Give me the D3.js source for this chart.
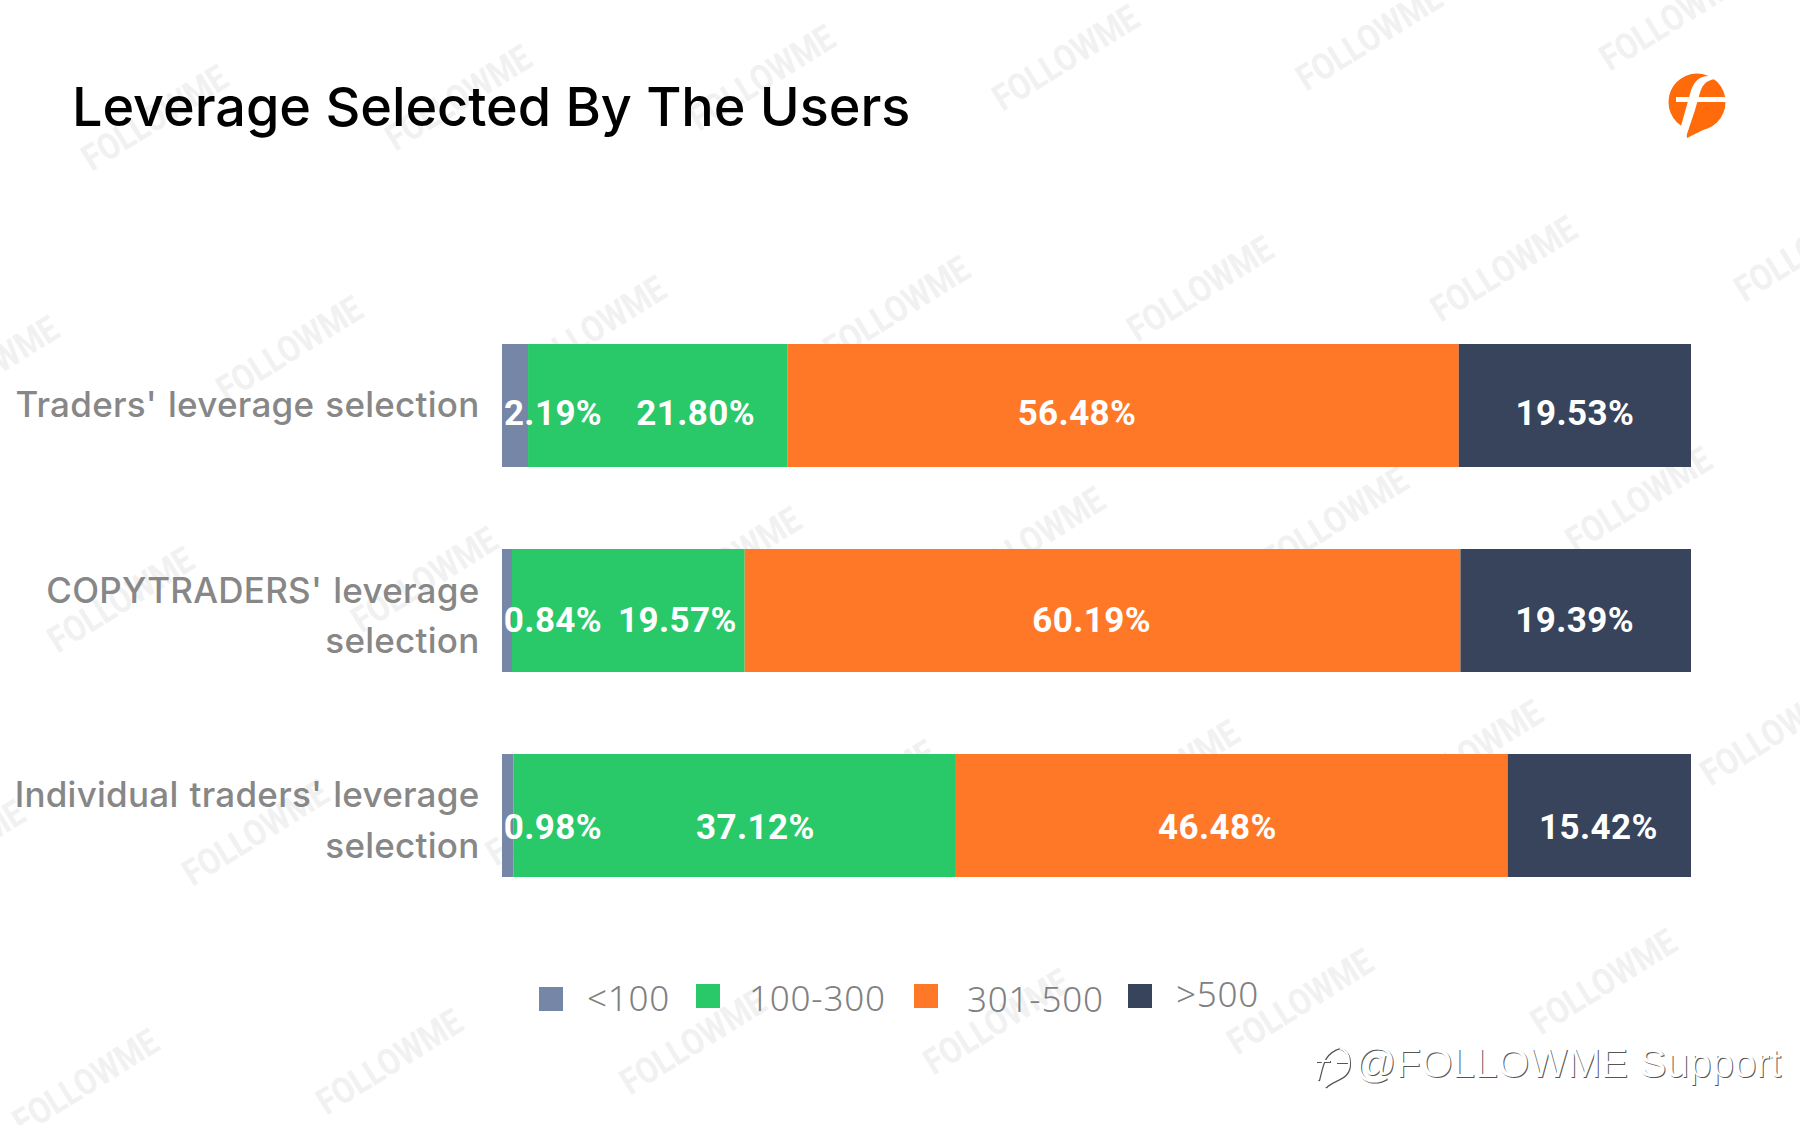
<!DOCTYPE html>
<html>
<head>
<meta charset="utf-8">
<script src="https://cdn.jsdelivr.net/npm/d3@7"></script>
<style>
  html, body { margin: 0; background: #fff; }
  svg { display: block; }
</style>
</head>
<body>
<svg id="chart" width="1800" height="1125"></svg>
<script>
// data
var categories = ['traders', 'copytraders', 'individual'];
var categoryLabels = [
    ["Traders' leverage selection"],
    ["COPYTRADERS' leverage", 'selection'],
    ["Individual traders' leverage", 'selection']
];
var seriesNames = ['<100', '100-300', '301-500', '>500'];
var under100 = [2.19, 0.84, 0.98];
var from100to300 = [21.80, 19.57, 37.12];
var from301to500 = [56.48, 60.19, 46.48];
var over500 = [19.53, 19.39, 15.42];

var seriesColors = ['#7686a6', '#29c869', '#ff7828', '#37445c'];

// labels in the picture are not centred in their segments, so nudge them by hand
var labelShift = [
    [38, 38, -46, 0],
    [46, 49, -11, -1],
    [45, 21, -14, -1]
];
var labelBaselines = [425, 632, 839];
var categoryBaselines = [[417], [603, 653], [807, 858]];
var legendSwatchY = [987, 984, 984, 984];
var legendSwatchX = [539, 696, 914, 1128];
var legendTextX = [587, 749, 967, 1176];
var legendTextY = [1011, 1011, 1012, 1007];

var svg = d3.select('#chart');

var rows = categories.map(function (c, i) {
    return {
        category: c,
        '<100': under100[i],
        '100-300': from100to300[i],
        '301-500': from301to500[i],
        '>500': over500[i]
    };
});

var stacked = d3.stack()
    .keys(seriesNames)
    .offset(d3.stackOffsetExpand)(rows);

var xScale = d3.scaleLinear().domain([0, 1]).range([502, 1691]);
var yScale = d3.scaleBand().domain(categories).range([344, 877]).paddingInner(0.4);
var colorScale = d3.scaleOrdinal().domain(seriesNames).range(seriesColors);

// repeated watermark, one pass under the chart and a very faint one over it
function drawWatermark(fill, opacity) {
    var markRows = [[155, 118], [-14, 369], [121, 600], [-48, 853], [86, 1082]];
    markRows.forEach(function (start) {
        d3.range(7).forEach(function (k) {
            var x = start[0] + k * 303.6;
            if (x > 1850) return;
            svg.append('text')
                .attr('transform', 'translate(' + x + ',' + (start[1] - k * 20) + ') rotate(-32)')
                .attr('x', -82)
                .attr('dy', 12)
                .attr('textLength', 164)
                .attr('lengthAdjust', 'spacingAndGlyphs')
                .attr('font-family', 'Roboto')
                .attr('font-weight', 700)
                .attr('font-size', 36)
                .attr('fill', fill)
                .attr('fill-opacity', opacity)
                .text('FOLLOWME');
        });
    });
}
drawWatermark('#f1f1f1', 1);

// title
svg.append('text')
    .attr('x', 72)
    .attr('y', 126)
    .attr('font-family', 'Inter')
    .attr('font-weight', 500)
    .attr('font-size', 54)
    .attr('letter-spacing', -0.05)
    .attr('fill', '#000')
    .text('Leverage Selected By The Users');

// bars
var groups = svg.selectAll('g.series')
    .data(stacked)
    .enter().append('g')
    .attr('class', 'series')
    .attr('fill', function (d) { return colorScale(d.key); });

groups.selectAll('rect')
    .data(function (d) { return d; })
    .enter().append('rect')
    .attr('x', function (d) { return xScale(d[0]); })
    .attr('y', function (d) { return yScale(d.data.category); })
    .attr('width', function (d) { return xScale(d[1]) - xScale(d[0]); })
    .attr('height', yScale.bandwidth());

// category labels
categoryLabels.forEach(function (lines, i) {
    lines.forEach(function (line, j) {
        svg.append('text')
            .attr('x', 479.5)
            .attr('y', categoryBaselines[i][j])
            .attr('text-anchor', 'end')
            .attr('font-family', 'Inter')
            .attr('font-weight', 500)
            .attr('font-size', 35)
            .attr('letter-spacing', 0.25)
            .attr('word-spacing', 1.5)
            .attr('fill', '#878787')
            .text(line);
    });
});

drawWatermark('#808080', 0.025);

// value labels go last so the first column sits on top of the green
stacked.forEach(function (s, si) {
    svg.append('g').selectAll('text')
        .data(s)
        .enter().append('text')
        .attr('x', function (d, i) { return (xScale(d[0]) + xScale(d[1])) / 2 + labelShift[i][si]; })
        .attr('y', function (d, i) { return labelBaselines[i]; })
        .attr('text-anchor', 'middle')
        .attr('font-family', 'Roboto')
        .attr('font-weight', 700)
        .attr('font-size', 35)
        .attr('letter-spacing', 0.4)
        .attr('fill', '#fff')
        .text(function (d) { return d.data[s.key].toFixed(2) + '%'; });
});

// legend
seriesNames.forEach(function (name, i) {
    svg.append('rect')
        .attr('x', legendSwatchX[i])
        .attr('y', legendSwatchY[i])
        .attr('width', 24)
        .attr('height', 24)
        .attr('fill', seriesColors[i]);
    svg.append('text')
        .attr('x', legendTextX[i])
        .attr('y', legendTextY[i])
        .attr('font-family', 'Noto Sans')
        .attr('font-weight', 300)
        .attr('font-size', 35)
        .attr('letter-spacing', 0.8)
        .attr('fill', '#808080')
        .text(name);
});

// logo
var logo = svg.append('g').attr('transform', 'translate(1697,102)');
logo.append('circle').attr('r', 28.5).attr('fill', '#ff6a0a');
logo.append('path').attr('d', 'M-12,22 L-10,36 L14,24 Z').attr('fill', '#ff6a0a');
logo.append('path')
    .attr('d', 'M14,-26 C2,-27 -4,-20 -7,-8 L-16,24 L-12,38 L-2,8 L2,-6 C5,-17 8,-21 18,-23 Z')
    .attr('fill', '#fff');
logo.append('rect').attr('x', -21).attr('y', -5).attr('width', 52).attr('height', 5).attr('fill', '#fff');

// embossed footer mark
[['#555', 1, 1], ['#fff', 0, 0]].forEach(function (c) {
    svg.append('text')
        .attr('x', 1355)
        .attr('y', 1077 + c[2])
        .attr('dx', c[1])
        .attr('font-family', 'Liberation Sans')
        .attr('font-size', 40.5)
        .attr('fill', c[0])
        .text('@FOLLOWME Support');
    svg.append('path')
        .attr('d', 'M1318,1080 C1322,1066 1322,1052 1340,1047 M1316,1061 H1330 M1336,1062 H1349 M1325,1087 C1332,1078 1350,1080 1349,1062 C1349,1054 1345,1050 1340,1048')
        .attr('transform', 'translate(' + c[1] + ',' + c[2] + ')')
        .attr('fill', 'none')
        .attr('stroke', c[0])
        .attr('stroke-width', 2);
});
</script>
</body>
</html>
